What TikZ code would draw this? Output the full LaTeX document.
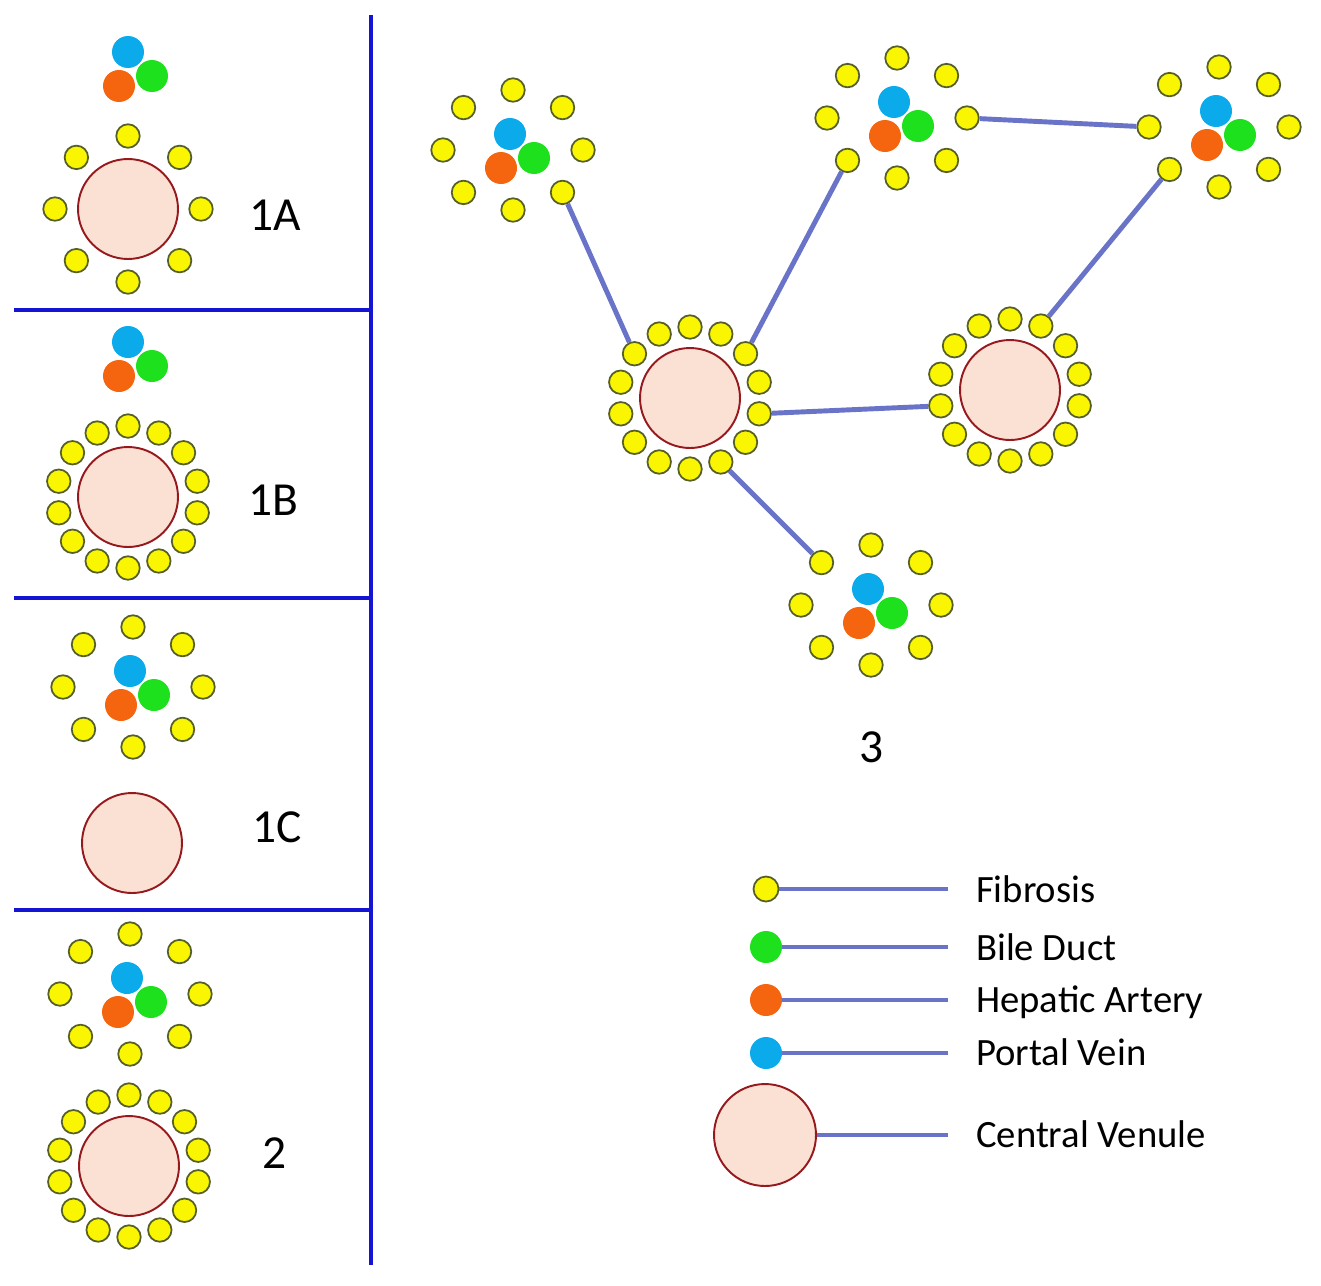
\documentclass[tikz,border=0pt]{standalone}
\usepackage{fontspec}
\setmainfont{Carlito}

\definecolor{fibfill}{RGB}{250,245,0}
\definecolor{fibdraw}{RGB}{85,95,40}
\definecolor{bileduct}{RGB}{30,225,30}
\definecolor{artery}{RGB}{245,100,15}
\definecolor{portal}{RGB}{10,170,235}
\definecolor{venfill}{RGB}{250,225,212}
\definecolor{vendraw}{RGB}{150,25,30}
\definecolor{divblue}{RGB}{20,20,210}
\definecolor{linkblue}{RGB}{105,115,200}

\tikzset{
  fibrosis/.style={circle, draw=fibdraw, fill=fibfill, line width=1pt, minimum size=0.47cm, inner sep=0pt},
  vessel/.style={circle, minimum size=0.64cm, inner sep=0pt},
  venule/.style={circle, draw=vendraw, fill=venfill, line width=1.1pt, minimum size=2cm, inner sep=0pt},
  connector/.style={draw=linkblue, line width=2.8pt},
  divider/.style={draw=divblue, line width=2.5pt},
  stagelabel/.style={font=\fontsize{27}{32}\selectfont, anchor=base},
  legendtext/.style={font=\fontsize{22}{26}\selectfont, anchor=base west}
}

\begin{document}
\begin{tikzpicture}[x=0.02cm, y=0.02cm]
    \useasboundingbox (0,0) rectangle (1321,-1285);
    % panels on the left
    \draw[divider] (371,-15) -- (371,-1265);
    \draw[divider] (14,-310) -- (371,-310);
    \draw[divider] (14,-598) -- (371,-598);
    \draw[divider] (14,-910) -- (371,-910);
    % portal triads
    \foreach \n/\x/\y in {pa/131/68, pb/131/358, pc/133/687, pd/130/994, p1/513/150, p2/897/118, p3/1219/127, p4/871/605} {
        \begin{scope}[shift={(\x,-\y)}]
            \node[vessel, fill=portal] (\n-pv) at (-3,16) {};
            \node[vessel, fill=artery] (\n-ha) at (-12,-18) {};
            \node[vessel, fill=bileduct] (\n-bd) at (21,-8) {};
        \end{scope}
    }
    % fibrosis round the triads
    \foreach \n/\x/\y in {pc/133/687, pd/130/994, p1/513/150, p2/897/118, p3/1219/127, p4/871/605} {
        \foreach \k in {0,...,7}
            \node[fibrosis] (\n-\k) at ([shift={(\x,-\y)}] 90+45*\k:70 and 60) {};
    }
    % central venules
    \node[venule] (va) at (128,-209) {};
    \node[venule] (vb) at (128,-497) {};
    \node[venule] (vc) at (132,-843) {};
    \node[venule] (vd) at (129,-1166) {};
    \node[venule] (v1) at (690,-398) {};
    \node[venule] (v2) at (1010,-390) {};
    \foreach \k in {0,...,7}
        \node[fibrosis] (va-\k) at ([shift={(128,-209)}] 90+45*\k:73) {};
    \foreach \n/\x/\y in {vb/128/497, vd/129/1166, v1/690/398, v2/1010/390} {
        \foreach \k in {0,...,13}
            \node[fibrosis] (\n-\k) at ([shift={(\x,-\y)}] 90+360/14*\k:71) {};
    }
    % links in 3
    \draw[connector] (p1-5) -- (v1-2);
    \draw[connector] (v1-12) -- (p2-3);
    \draw[connector] (p2-6) -- (p3-2);
    \draw[connector] (v2-13) -- (p3-3);
    \draw[connector] (v1-10) -- (v2-4);
    \draw[connector] (v1-8) -- (p4-1);
    % stage labels
    \node[stagelabel] (la) at (275,-230) {1A};
    \node[stagelabel] (lb) at (273,-515) {1B};
    \node[stagelabel] (lc) at (277,-842) {1C};
    \node[stagelabel] (ld) at (275,-1168) {2};
    \node[stagelabel] (l3) at (872,-762) {3};
    % legend
    \node[fibrosis, minimum size=0.5cm] (kf) at (766,-889) {};
    \node[vessel, fill=bileduct] (kb) at (766,-947) {};
    \node[vessel, fill=artery] (kh) at (766,-1000) {};
    \node[vessel, fill=portal] (kp) at (766,-1053) {};
    \node[venule, minimum size=2.04cm] (kv) at (765,-1135) {};
    \coordinate (kf-end) at (948,-889);
    \coordinate (kb-end) at (948,-947);
    \coordinate (kh-end) at (948,-1000);
    \coordinate (kp-end) at (948,-1053);
    \coordinate (kv-end) at (948,-1135);
    \foreach \k in {kf,kb,kh,kp,kv}
        \draw[connector] (\k) -- (\k-end);
    \node[legendtext] (tf) at (970,-902) {Fibrosis};
    \node[legendtext] (tb) at (970,-960) {Bile Duct};
    \node[legendtext] (th) at (970,-1012) {Hepatic Artery};
    \node[legendtext] (tp) at (970,-1065) {Portal Vein};
    \node[legendtext] (tv) at (970,-1147) {Central Venule};
\end{tikzpicture}
\end{document}
